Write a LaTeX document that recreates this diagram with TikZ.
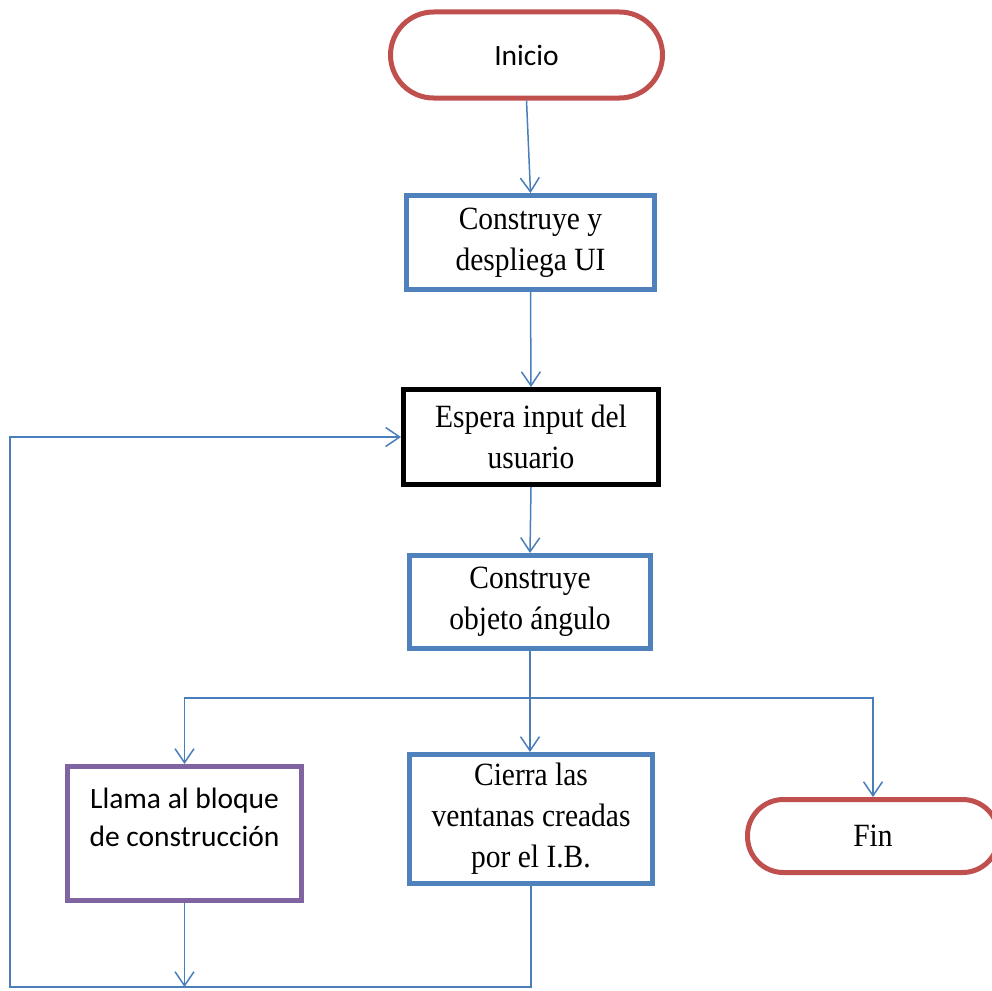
\documentclass[tikz,border=0pt]{standalone}
\usepackage{fontspec}
\usepackage{graphicx}
\setmainfont{Liberation Serif}
\newfontfamily\calfont{Carlito}
\usetikzlibrary{arrows.meta}
\definecolor{bxblue}{HTML}{4F81BD}
\definecolor{bxred}{HTML}{C0504D}
\definecolor{bxpurple}{HTML}{8064A2}
\definecolor{lnblue}{HTML}{4A7EBB}
\newcommand\vst[1]{\scalebox{1}[1.1]{#1}}
\begin{document}
\begin{tikzpicture}[x=1pt,y=-1pt,
  serifbox/.style={draw=bxblue,line width=5pt,rectangle,inner sep=0pt,align=center,
    font=\fontsize{29.5}{41}\selectfont},
  termbox/.style={draw=bxred,line width=5pt,rectangle,inner sep=0pt,align=center},
  conn/.style={draw=lnblue,line width=1.5pt},
  arr/.style={conn,-{Straight Barb[length=14pt,width=19pt,line width=1.5pt]}}
]
\useasboundingbox (0,0) rectangle (992,990);

\node[termbox,minimum width=272pt,minimum height=86pt,rounded corners=43pt,
  font=\calfont\fontsize{29.5}{36}\selectfont] (ini) at (526.5,55) {Inicio};
\node[serifbox,minimum width=248pt,minimum height=94pt] (b1) at (530.5,242.5) {\vst{Construye y}\\\vst{despliega UI}};
\node[serifbox,draw=black,minimum width=255pt,minimum height=95pt] (b2) at (531,437) {\vst{Espera input del}\\\vst{usuario}};
\node[serifbox,minimum width=241pt,minimum height=93pt] (b3) at (530,602) {\vst{Construye}\\\vst{objeto ángulo}};
\node[serifbox,draw=bxpurple,minimum width=234pt,minimum height=134pt] (llama) at (184.5,833.5) {};
\node[font=\calfont\fontsize{29.5}{38}\selectfont,align=center,inner sep=0pt] (llamat) at (184.5,817) {Llama al bloque\\de construcción};
\node[serifbox,minimum width=243pt,minimum height=129pt] (cierra) at (531,819) {\vst{Cierra las}\\\vst{ventanas creadas}\\\vst{por el I.B.}};
\node[termbox,minimum width=251pt,minimum height=73pt,rounded corners=36pt,
  font=\fontsize{29.5}{36}\selectfont] (fin) at (873,836) {\vst{Fin}};

\coordinate (split) at (530,698);
\coordinate (bot1) at (184.5,987);
\coordinate (bot2) at (531,987);
\coordinate (botl) at (10,987);
\coordinate (topl) at (10,437);

\draw[arr] (ini.south) -- (b1.north);
\draw[arr] (b1.south) -- (b2.north);
\draw[arr] (b2.south) -- (b3.north);
\draw[conn] (b3.south) -- (split);
\draw[arr] (split) -| (llama.north);
\draw[arr] (split) -| (fin.north);
\draw[arr] (split) -- (split |- cierra.north);
\draw[arr] (llama.south) -- (bot1);
\draw[arr] (cierra.south) -- (bot2) -- (botl) -- (topl) -- (b2.west);
\end{tikzpicture}
\end{document}
